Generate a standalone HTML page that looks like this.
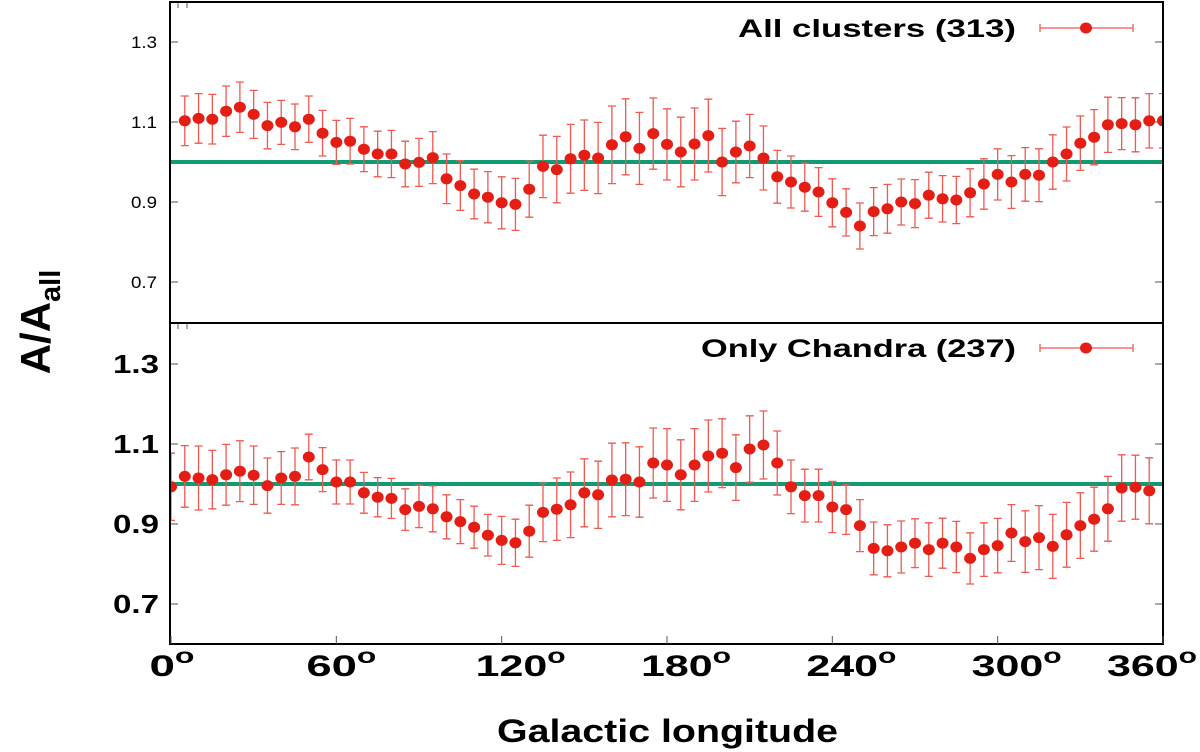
<!DOCTYPE html>
<html><head><meta charset="utf-8"><style>
html,body{margin:0;padding:0;background:#fff;}
svg{display:block;font-family:"Liberation Sans",Arial,sans-serif;}
</style></head><body>
<svg id="chart" width="1200" height="752" viewBox="0 0 1200 752" xmlns="http://www.w3.org/2000/svg"></svg>
<script>
const topLon = [5,10,15,20,25,30,35,40,45,50,55,60,65,70,75,80,85,90,95,100,105,110,115,120,125,130,135,140,145,150,155,160,165,170,175,180,185,190,195,200,205,210,215,220,225,230,235,240,245,250,255,260,265,270,275,280,285,290,295,300,305,310,315,320,325,330,335,340,345,350,355,360];
const topVal = [1.103,1.109,1.107,1.127,1.137,1.119,1.091,1.099,1.088,1.107,1.072,1.049,1.052,1.032,1.02,1.02,0.995,0.999,1.011,0.958,0.941,0.92,0.912,0.898,0.894,0.932,0.989,0.981,1.008,1.017,1.01,1.043,1.063,1.034,1.071,1.044,1.025,1.045,1.066,1.0,1.025,1.04,1.01,0.963,0.95,0.937,0.925,0.898,0.874,0.84,0.876,0.883,0.9,0.896,0.917,0.908,0.905,0.923,0.945,0.969,0.95,0.969,0.967,1.0,1.02,1.047,1.062,1.093,1.096,1.093,1.103,1.103];
const topErr = [0.062,0.062,0.062,0.063,0.063,0.06,0.058,0.055,0.057,0.058,0.057,0.055,0.057,0.056,0.057,0.059,0.057,0.06,0.065,0.062,0.062,0.062,0.064,0.065,0.065,0.07,0.078,0.083,0.086,0.088,0.089,0.097,0.095,0.09,0.089,0.089,0.087,0.09,0.091,0.084,0.077,0.079,0.08,0.066,0.065,0.06,0.061,0.06,0.059,0.0575,0.06,0.061,0.0575,0.06,0.0575,0.058,0.059,0.06,0.063,0.064,0.066,0.067,0.066,0.068,0.0675,0.068,0.069,0.069,0.065,0.0675,0.068,0.068];
const botLon = [0,5,10,15,20,25,30,35,40,45,50,55,60,65,70,75,80,85,90,95,100,105,110,115,120,125,130,135,140,145,150,155,160,165,170,175,180,185,190,195,200,205,210,215,220,225,230,235,240,245,250,255,260,265,270,275,280,285,290,295,300,305,310,315,320,325,330,335,340,345,350,355];
const botVal = [0.993,1.019,1.015,1.011,1.023,1.032,1.022,0.996,1.015,1.019,1.0675,1.036,1.005,1.005,0.978,0.967,0.964,0.936,0.944,0.938,0.918,0.906,0.892,0.872,0.859,0.853,0.882,0.929,0.937,0.948,0.978,0.973,1.01,1.012,1.005,1.0525,1.0475,1.023,1.0475,1.07,1.077,1.041,1.0875,1.0975,1.0525,0.993,0.971,0.971,0.9425,0.936,0.896,0.839,0.833,0.8425,0.852,0.836,0.852,0.8425,0.814,0.836,0.846,0.8775,0.856,0.866,0.844,0.873,0.896,0.912,0.938,0.99,0.992,0.983];
const botErr = [0.084,0.077,0.08,0.073,0.076,0.076,0.073,0.069,0.066,0.071,0.057,0.055,0.055,0.055,0.051,0.049,0.05,0.052,0.053,0.0575,0.055,0.055,0.0525,0.052,0.06,0.059,0.065,0.073,0.078,0.082,0.085,0.084,0.092,0.091,0.088,0.0875,0.091,0.0875,0.091,0.09,0.086,0.082,0.083,0.085,0.08,0.067,0.066,0.066,0.064,0.062,0.065,0.066,0.065,0.065,0.061,0.067,0.0625,0.064,0.064,0.067,0.068,0.071,0.077,0.08,0.08,0.081,0.082,0.08,0.081,0.083,0.08,0.0825];
const xTicks = [0,60,120,180,240,300,360];
const yTicks = [0.7,0.9,1.1,1.3];

const NS="http://www.w3.org/2000/svg";
const svg=document.getElementById('chart');
function mk(tag,attrs,parent){const e=document.createElementNS(NS,tag);for(const k in attrs)e.setAttribute(k,attrs[k]);(parent||svg).appendChild(e);return e;}
const L=170,R=1163;
const xS=d=>L+1+(d/360)*(R-L-1);
const panels=[{top:2,bot:323,c:162,lon:topLon,val:topVal,err:topErr,name:'top',label:'All clusters (313)',lw:278,ly:28,small:true},
              {top:323,bot:644,c:484,lon:botLon,val:botVal,err:botErr,name:'bottom',label:'Only Chandra (237)',lw:315,ly:348,small:false}];
panels.forEach(p=>{
  const yS=v=>p.c-(v-1)*400;
  const g=mk('g',{});
  
  
  const clip=mk('clipPath',{id:'clip-'+p.name},g);
  mk('rect',{x:L,y:p.top,width:R-L,height:p.bot-p.top},clip);
  yTicks.forEach(t=>{
    const y=yS(t);
    const tk=mk('line',{x1:L,x2:L+8,y1:y,y2:y,stroke:'#555','stroke-width':1},g);
    
    
    const tk2=mk('line',{x1:R-8,x2:R,y1:y,y2:y,stroke:'#555','stroke-width':1},g);
    
    
    const tx=mk('text',{x:p.small?131:113,y:y+(p.small?6:9),'font-size':p.small?17:26,'font-weight':p.small?'normal':'bold',fill:'#000',textLength:p.small?26:46,lengthAdjust:'spacingAndGlyphs'},g);
    tx.textContent=t.toFixed(1);
    
    
  });
  const ref=mk('line',{x1:L,x2:R,y1:yS(1),y2:yS(1),stroke:'#129a72','stroke-width':4},g);
  
  
  const marks=mk('g',{'clip-path':'url(#clip-'+p.name+')'},g);
  p.lon.forEach((d,i)=>{
    const x=xS(d),y=yS(p.val[i]),y1=yS(p.val[i]+p.err[i]),y2=yS(p.val[i]-p.err[i]);
    const eb=mk('path',{d:`M${x},${y1}V${y2}M${x-4},${y1}H${x+4}M${x-4},${y2}H${x+4}`,stroke:'#ef5a52','stroke-width':1.3,fill:'none'},marks);
    
    
    const pt=mk('ellipse',{cx:x,cy:y,rx:6,ry:5.5,fill:'#e41e14'},marks);
    
    
  });
  const lt=mk('text',{x:1016-p.lw,y:p.ly+9,'font-size':25,'font-weight':'bold',fill:'#000',textLength:p.lw,lengthAdjust:'spacingAndGlyphs'},g);
  lt.textContent=p.label;
  
  
  const lm=mk('path',{d:`M1040,${p.ly}H1133M1040,${p.ly-4}V${p.ly+4}M1133,${p.ly-4}V${p.ly+4}`,stroke:'#ef5a52','stroke-width':1.3,fill:'none'},g);
  
  
  const ld=mk('ellipse',{cx:1086,cy:p.ly,rx:6,ry:5.5,fill:'#e41e14'},g);
  
  
  [178,187].forEach(xx=>{const s=mk('line',{x1:xx,x2:xx,y1:p.top,y2:p.top+6,stroke:'#555'},g);
    
    });
  const fr=mk('rect',{x:L,y:p.top,width:R-L,height:p.bot-p.top,fill:'none',stroke:'#000','stroke-width':2},g);
  
  
});
xTicks.forEach(t=>{
  const x=xS(t);
  const tk=mk('line',{x1:x,x2:x,y1:644-8,y2:644,stroke:'#555'});
  
  
  const s=String(t);
  const w=s.length===1?45:(s.length===2?70:90);
  let cx=x+(s.length===1?1:(s.length===2?5:19));
  if(t===360) cx=x-11;
  const tx=mk('text',{x:cx-w/2,y:676,'font-size':30,'font-weight':'bold',fill:'#000',textLength:w,lengthAdjust:'spacingAndGlyphs'});
  
  
  tx.appendChild(document.createTextNode(s));
  const sup=mk('tspan',{dy:-13,'font-size':21},tx);
  sup.textContent='o';
});
</script>
<svg style="position:absolute;left:0;top:0" width="1200" height="752">
<text x="497" y="742" textLength="341" lengthAdjust="spacingAndGlyphs" font-family="Liberation Sans, Arial, sans-serif" font-size="32" font-weight="bold">Galactic longitude</text>
<text transform="translate(50,322) rotate(-90)" text-anchor="middle" font-family="Liberation Sans, Arial, sans-serif" font-size="42" font-weight="bold">A/A<tspan dy="10" font-size="29">all</tspan></text>
</svg>
</body></html>
